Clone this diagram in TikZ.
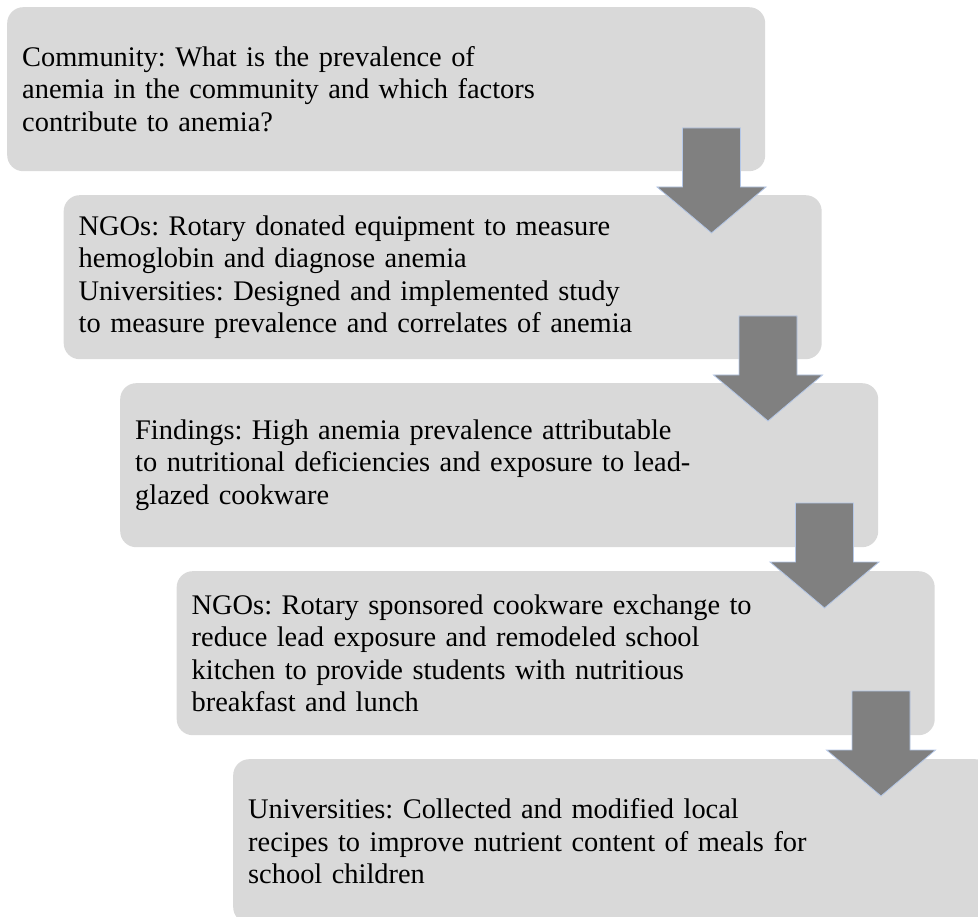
\documentclass[tikz,border=0pt]{standalone}
\usepackage{fontspec}
\setmainfont{Liberation Serif}
\definecolor{boxgray}{RGB}{217,217,217}
\definecolor{arrgray}{RGB}{128,128,128}
\definecolor{arredge}{RGB}{180,199,231}
\tikzset{
  stagebox/.style={fill=boxgray, rounded corners=16pt, anchor=north west,
    minimum width=758pt, minimum height=164pt, text width=728pt,
    inner xsep=15pt, inner ysep=0pt, align=left,
    font=\fontsize{28.4}{32.5}\selectfont\frenchspacing},
  blockarr/.pic={\draw[fill=arrgray, draw=arredge, line width=0.8pt, line join=miter]
    (-29,0) -- (29,0) -- (29,59) -- (54.5,59) -- (0,105) -- (-54.5,59) -- (-29,59) -- cycle;}
}
\begin{document}
\begin{tikzpicture}[x=1pt,y=-1pt]
\clip (0,0) rectangle (978,917);
\node[stagebox] (b1) at (7,7) {Community: What is the prevalence of\\anemia in the community and which factors\\contribute to anemia?};
\node[stagebox] (b2) at (63.5,195) {NGOs: Rotary donated equipment to measure\\hemoglobin and diagnose anemia\\Universities: Designed and implemented study\\to measure prevalence and correlates of anemia};
\node[stagebox] (b3) at (120,383) {Findings: High anemia prevalence attributable\\to nutritional deficiencies and exposure to lead-\\glazed cookware};
\node[stagebox] (b4) at (176.5,571) {NGOs: Rotary sponsored cookware exchange to\\reduce lead exposure and remodeled school\\kitchen to provide students with nutritious\\breakfast and lunch};
\node[stagebox] (b5) at (233,759) {Universities: Collected and modified local\\recipes to improve nutrient content of meals for\\school children};
\pic at ([shift={(704.5,121)}]b1.north west) {blockarr};
\pic at ([shift={(704.5,121)}]b2.north west) {blockarr};
\pic at ([shift={(704.5,120)}]b3.north west) {blockarr};
\pic at ([shift={(704.5,120)}]b4.north west) {blockarr};
\end{tikzpicture}
\end{document}
